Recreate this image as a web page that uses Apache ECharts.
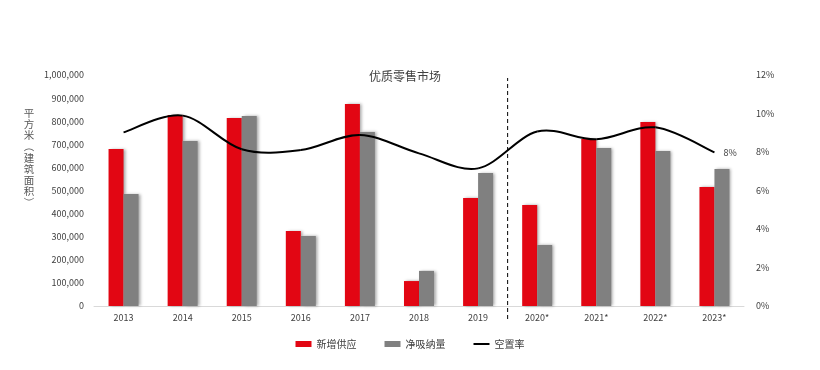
<!DOCTYPE html>
<html><head><meta charset="utf-8">
<script src="https://cdn.jsdelivr.net/npm/echarts@6/dist/echarts.min.js"></script>
<style>html,body{margin:0;padding:0;background:#fff}#c{width:820px;height:370px}</style>
</head><body><div id="c"></div>
<script>
const categories = ['2013','2014','2015','2016','2017','2018','2019','2020*','2021*','2022*','2023*'];
const newSupply = [680000, 827000, 814000, 325000, 874000, 108000, 467000, 437000, 723000, 797000, 515000];
const netAbsorption = [485000, 714000, 822000, 303000, 753000, 152000, 576000, 264000, 684000, 671000, 593000];
const vacancy = [9.02, 9.89, 8.14, 8.1, 8.88, 7.93, 7.15, 9.06, 8.66, 9.28, 7.98];
const leftTicks = [0, 1000000, 100000];
const rightTicks = [0, 12, 2];
const forecastStart = 7; // boundary between 2019 and 2020*
const yAxisTitle = '平方米（建筑面积）';

const font = '"Noto Sans CJK SC", "DejaVu Sans", sans-serif';
const labelStyle = {color: '#404040', fontSize: 9, fontFamily: font};
const shadow = {shadowColor: 'rgba(0,0,0,0.35)', shadowBlur: 3, shadowOffsetX: 2, shadowOffsetY: 0};

// Excel-like smoothed line (Catmull-Rom through every data point, via the axis scales)
function renderVacancy(params, api) {
  const i = params.dataIndex, n = vacancy.length;
  const pt = k => api.coord([Math.max(0, Math.min(n - 1, k)), vacancy[Math.max(0, Math.min(n - 1, k))]]);
  if (i === n - 1) {
    const p = pt(i);
    return {type: 'text', x: p[0] + 9, y: p[1], style: {
      text: Math.round(vacancy[i]) + '%', align: 'left', verticalAlign: 'middle',
      fill: '#404040', fontSize: 9, fontFamily: font}};
  }
  const p0 = pt(i - 1), p1 = pt(i), p2 = pt(i + 1), p3 = pt(i + 2);
  return {type: 'bezierCurve', shape: {
      x1: p1[0], y1: p1[1], x2: p2[0], y2: p2[1],
      cpx1: p1[0] + (p2[0] - p0[0]) / 6, cpy1: p1[1] + (p2[1] - p0[1]) / 6,
      cpx2: p2[0] - (p3[0] - p1[0]) / 6, cpy2: p2[1] - (p3[1] - p1[1]) / 6},
    style: {stroke: '#000', lineWidth: 2, fill: null}};
}

// vertical (stacked, upright) axis title; parentheses turned as in vertical writing
const titleChars = Array.from(yAxisTitle).map((c, k) => ({
  type: 'text', x: 29, y: 113 + k * 11.2,
  rotation: (c === '（' || c === '）') ? -Math.PI / 2 : 0,
  style: {text: c, align: 'center', verticalAlign: 'middle', fill: '#595959',
    fontSize: 10.5, fontFamily: '"Noto Sans CJK SC"'}
}));

const chart = echarts.init(document.getElementById('c'), null, {renderer: 'canvas'});
chart.setOption({
  animation: false,
  backgroundColor: '#fff',
  title: {text: '优质零售市场', left: 400, top: 65, textAlign: 'center',
    textStyle: {fontSize: 12, fontWeight: 'normal', color: '#404040', fontFamily: font}},
  graphic: titleChars,
  legend: {
    bottom: 16, left: 'center', itemGap: 28, itemWidth: 16, itemHeight: 6,
    textStyle: {fontSize: 10, color: '#404040', fontFamily: font},
    data: [
      {name: '新增供应', icon: 'rect'},
      {name: '净吸纳量', icon: 'rect'},
      {name: '空置率', icon: 'path://M0,0 L16,0 L16,2 L0,2 Z', itemStyle: {color: '#000'}}
    ]
  },
  grid: [
    {left: 94, right: 76, top: 75, bottom: 64},
    {left: 94, right: 76, top: 78, bottom: 51, show: false}
  ],
  xAxis: [
    {type: 'category', data: categories, gridIndex: 0,
      axisLine: {lineStyle: {color: '#d9d9d9'}}, axisTick: {show: false},
      axisLabel: Object.assign({margin: 7}, labelStyle)},
    {type: 'value', gridIndex: 1, min: 0, max: categories.length, show: false}
  ],
  yAxis: [
    {type: 'value', gridIndex: 0, min: leftTicks[0], max: leftTicks[1], interval: leftTicks[2],
      axisLine: {show: false}, axisTick: {show: false}, splitLine: {show: false},
      axisLabel: Object.assign({margin: 10, formatter: v => v.toLocaleString('en-US')}, labelStyle)},
    {type: 'value', gridIndex: 0, min: rightTicks[0], max: rightTicks[1], interval: rightTicks[2],
      position: 'right', axisLine: {show: false}, axisTick: {show: false}, splitLine: {show: false},
      axisLabel: Object.assign({margin: 12, formatter: v => v + '%'}, labelStyle)},
    {type: 'value', gridIndex: 1, min: 0, max: 1, show: false}
  ],
  series: [
    {name: '新增供应', type: 'bar', data: newSupply, barWidth: 15, barGap: '0%',
      itemStyle: Object.assign({color: '#E20613'}, shadow)},
    {name: '净吸纳量', type: 'bar', data: netAbsorption, barWidth: 15, barGap: '0%',
      itemStyle: Object.assign({color: '#808080'}, shadow)},
    {name: '空置率', type: 'custom', yAxisIndex: 1, renderItem: renderVacancy,
      data: vacancy.map((v, i) => [i, v]), encode: {x: 0, y: 1},
      itemStyle: {color: '#000'}, clip: false, z: 3},
    {name: 'divider', type: 'line', xAxisIndex: 1, yAxisIndex: 2,
      data: [[forecastStart, 0], [forecastStart, 1]], symbol: 'none', silent: true,
      lineStyle: {color: '#000', width: 1, type: [4, 3]}}
  ]
});
</script></body></html>
